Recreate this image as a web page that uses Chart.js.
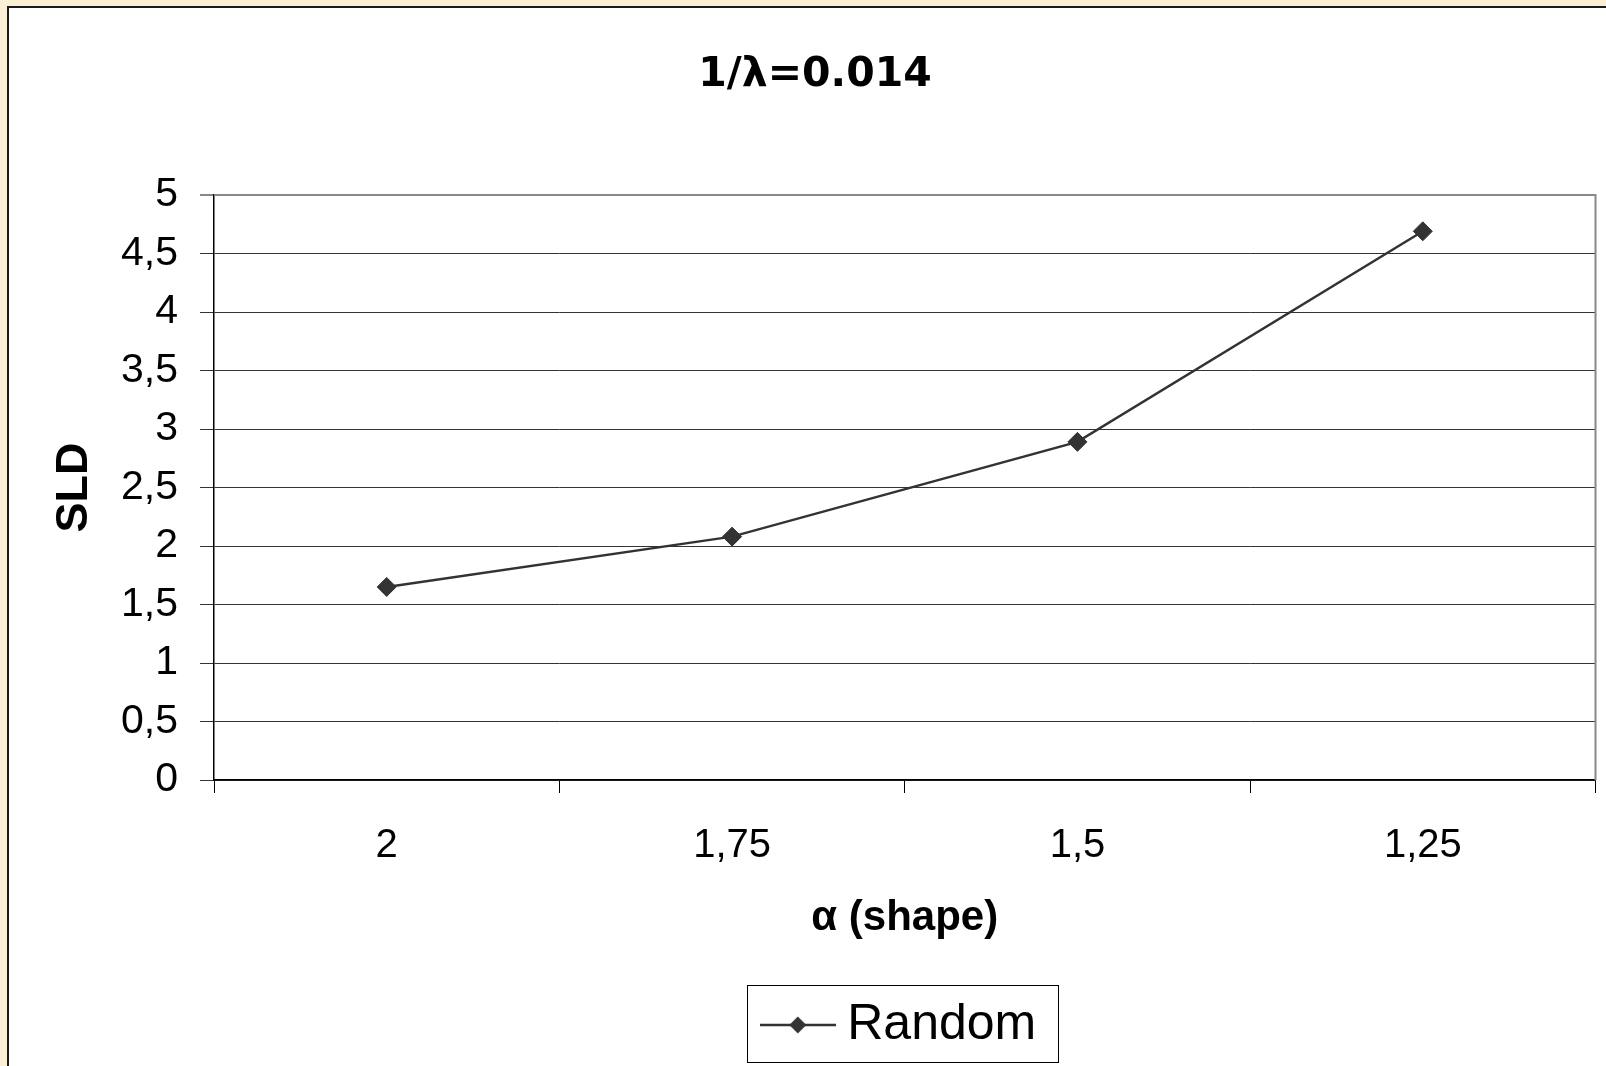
<!DOCTYPE html>
<html>
<head>
<meta charset="utf-8">
<script src="https://cdn.jsdelivr.net/npm/chart.js@4"></script>
<style>
  html, body { margin: 0; padding: 0; background: #FBEFD6; }
  #wrap { position: relative; width: 1606px; height: 1066px; }
</style>
</head>
<body>
<div id="wrap"><canvas id="c"></canvas></div>
<script>
// Chart content
const chartTitle = '1/λ=0.014';
const alphaLabels = ['2', '1,75', '1,5', '1,25'];
const seriesName = 'Random';
const sldValues = [1.65, 2.08, 2.89, 4.69];
const yMin = 0;
const yMax = 5;
const yStep = 0.5;
const xAxisTitle = 'α (shape)';
const yAxisTitle = 'SLD';

const FONT = '"Liberation Sans", Arial, sans-serif';
const TITLE_FONT = '"DejaVu Sans", "Liberation Sans", Arial, sans-serif';
const INK = '#333333';

// Legend glyph: a short line with a diamond in the middle
function makeLegendGlyph() {
  const g = document.createElement('canvas');
  g.width = 76; g.height = 20;
  const c = g.getContext('2d');
  c.strokeStyle = INK; c.lineWidth = 2.5;
  c.beginPath(); c.moveTo(0, 10); c.lineTo(76, 10); c.stroke();
  c.fillStyle = INK;
  c.beginPath();
  c.moveTo(38, 1.5); c.lineTo(46.5, 10); c.lineTo(38, 18.5); c.lineTo(29.5, 10);
  c.closePath(); c.fill();
  return g;
}

// Cream page with a white framed panel
const panelPlugin = {
  id: 'panel',
  beforeDraw(chart) {
    const { ctx, width, height } = chart;
    ctx.save();
    ctx.fillStyle = '#FBEFD6';
    ctx.fillRect(0, 0, width, height);
    ctx.fillStyle = '#FFFFFF';
    ctx.fillRect(7, 6, width, height);
    ctx.strokeStyle = '#1A1A1A';
    ctx.lineWidth = 2;
    ctx.beginPath();
    ctx.moveTo(8, height + 5);
    ctx.lineTo(8, 7);
    ctx.lineTo(width + 5, 7);
    ctx.stroke();
    ctx.restore();
  }
};

// Grey top/right edge of the plot area
const plotFramePlugin = {
  id: 'plotFrame',
  beforeDatasetsDraw(chart) {
    const { ctx, chartArea: a } = chart;
    ctx.save();
    ctx.strokeStyle = '#888888';
    ctx.lineWidth = 2;
    ctx.beginPath();
    ctx.moveTo(a.left, a.top);
    ctx.lineTo(a.right, a.top);
    ctx.lineTo(a.right, a.bottom);
    ctx.stroke();
    ctx.restore();
  }
};

// Box around the legend entry
const legendFramePlugin = {
  id: 'legendFrame',
  afterDraw(chart) {
    const lg = chart.legend;
    if (!lg || !lg.legendHitBoxes || !lg.legendHitBoxes.length) return;
    const hb = lg.legendHitBoxes[0];
    const ctx = chart.ctx;
    const cy = hb.top + hb.height / 2;
    const left = Math.round(hb.left - 26) + 0.5;
    const right = Math.round(hb.left + hb.width + 22) + 0.5;
    const top = Math.round(cy - 40.5) + 0.5;
    const bottom = Math.round(cy + 36.5) + 0.5;
    ctx.save();
    ctx.strokeStyle = '#000000';
    ctx.lineWidth = 1;
    ctx.strokeRect(left, top, right - left, bottom - top);
    ctx.restore();
  }
};

new Chart(document.getElementById('c'), {
  type: 'line',
  data: {
    labels: alphaLabels,
    datasets: [{
      label: seriesName,
      data: sldValues,
      borderColor: INK,
      borderWidth: 2.5,
      backgroundColor: INK,
      pointStyle: 'rectRot',
      pointRadius: 9.5,
      pointBackgroundColor: INK,
      pointBorderColor: INK,
      pointBorderWidth: 1,
      tension: 0,
      fill: false
    }]
  },
  options: {
    responsive: true,
    maintainAspectRatio: false,
    devicePixelRatio: 1,
    animation: false,
    layout: { padding: { left: 34, right: 10, top: 0, bottom: 6 } },
    plugins: {
      title: {
        display: true,
        text: chartTitle,
        color: '#000',
        font: { family: TITLE_FONT, size: 41, weight: 'bold', lineHeight: 1.2 },
        padding: { top: 50.4, bottom: 95.4 }
      },
      legend: {
        display: true,
        position: 'bottom',
        fullSize: false,
        labels: {
          usePointStyle: true,
          pointStyle: makeLegendGlyph(),
          pointStyleWidth: 49,
          boxHeight: 49,
          padding: 10,
          color: '#000',
          font: { family: FONT, size: 50 }
        }
      },
      tooltip: { enabled: false }
    },
    scales: {
      x: {
        offset: true,
        afterFit(scale) { scale.height = 210; },
        grid: {
          display: true,
          offset: true,
          drawOnChartArea: false,
          drawTicks: true,
          tickLength: 13,
          color: '#000'
        },
        border: { display: true, color: '#000', width: 1.5 },
        ticks: {
          color: '#000',
          padding: 29,
          maxRotation: 0,
          font: { family: FONT, size: 40 }
        },
        title: {
          display: true,
          text: xAxisTitle,
          color: '#000',
          font: { family: FONT, size: 42, weight: 'bold', lineHeight: 1.2 },
          padding: { top: 0, bottom: 46 }
        }
      },
      y: {
        min: yMin,
        max: yMax,
        afterFit(scale) { scale.width = 180; },
        grid: {
          drawTicks: true,
          tickLength: 14,
          color: (ctx) => (ctx.tick && ctx.tick.value === yMax ? '#888888' : '#333333'),
          lineWidth: (ctx) => (ctx.tick && ctx.tick.value === yMax ? 2 : 1)
        },
        border: { display: true, color: '#000', width: 1.5 },
        ticks: {
          stepSize: yStep,
          color: '#000',
          padding: 22,
          font: { family: FONT, size: 41 },
          callback: (v) => String(v).replace('.', ',')
        },
        title: {
          display: true,
          text: yAxisTitle,
          color: '#000',
          font: { family: FONT, size: 45, weight: 'bold', lineHeight: 1.2 },
          padding: { top: 14, bottom: 0 }
        }
      }
    }
  },
  plugins: [panelPlugin, plotFramePlugin, legendFramePlugin]
});
</script>
</body>
</html>
